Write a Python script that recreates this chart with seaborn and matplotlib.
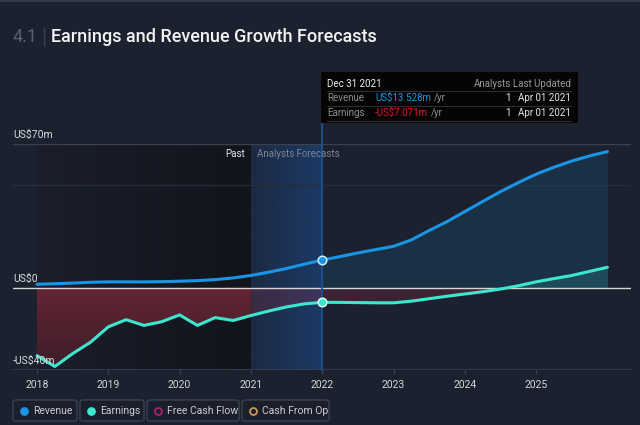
import numpy as np
import pandas as pd
import matplotlib
matplotlib.use("Agg")
import matplotlib.pyplot as plt
from matplotlib.patches import Rectangle, FancyBboxPatch
from matplotlib.lines import Line2D
from matplotlib.colors import LinearSegmentedColormap
import seaborn as sns

# data (US$ m), quarterly
periods = [2018.0, 2018.25, 2018.5, 2018.75, 2019.0, 2019.25, 2019.5, 2019.75,
           2020.0, 2020.25, 2020.5, 2020.75, 2021.0, 2021.25, 2021.5, 2021.75,
           2022.0, 2022.25, 2022.5, 2022.75, 2023.0, 2023.25, 2023.5, 2023.75,
           2024.0, 2024.25, 2024.5, 2024.75, 2025.0, 2025.25, 2025.5, 2025.75, 2026.0]
revenue = [1.7, 2.0, 2.3, 2.7, 2.9, 2.9, 2.9, 3.0,
           3.2, 3.5, 4.0, 4.8, 6.0, 7.6, 9.4, 11.5,
           13.528, 15.2, 17.0, 18.6, 20.2, 23.3, 27.9, 32.2,
           37.1, 42.0, 46.8, 51.2, 55.3, 58.7, 61.7, 64.2, 66.3]
earnings = [-33.0, -38.3, -32.0, -26.5, -19.0, -15.5, -18.3, -16.5,
            -13.2, -18.3, -14.5, -15.9, -13.5, -11.3, -9.3, -7.8,
            -7.071, -7.1, -7.2, -7.3, -7.3, -6.5, -5.3, -4.1,
            -3.0, -1.9, -0.6, 1.0, 2.9, 4.5, 6.0, 8.0, 10.0]
year_ticks = [2018, 2019, 2020, 2021, 2022, 2023, 2024, 2025]
y_labels = {70: "US$70m", 0: "US$0", -40: "-US$40m"}
legend_items = ["Revenue", "Earnings", "Free Cash Flow", "Cash From Op"]

BG = "#1b212e"
REV = "#1a95e6"
EARN = "#3de6cf"
W, H = 640, 425

df = pd.DataFrame({"period": periods, "Revenue": revenue, "Earnings": earnings})
long = df.melt(id_vars="period", var_name="series", value_name="value")

sns.set_style("dark")
plt.rcParams["font.family"] = ["Roboto", "DejaVu Sans"]

fig = plt.figure(figsize=(6.4, 4.25), dpi=100, facecolor=BG)


def fx(x):
    return x / W


def fy(y):
    return 1 - y / H


ax = fig.add_axes([fx(13), fy(370), fx(631) - fx(13), fy(144) - fy(370)])
ax.set_facecolor(BG)
x0 = 2018 - 24 / 71.3
x1 = 2018 + (631 - 37) / 71.3
for s in ax.spines.values():
    s.set_visible(False)

# past region: darkening gradient
past_cmap = LinearSegmentedColormap.from_list("past", ["#1a1f2b", "#11141b"])
ax.imshow(np.linspace(0, 1, 256).reshape(1, -1), cmap=past_cmap, aspect="auto",
          extent=[2018, 2021, -40, 70], zorder=0.5)
# forecast band up to the highlighted date
band_cmap = LinearSegmentedColormap.from_list("band", ["#1c2a42", "#1c3a66"])
ax.imshow(np.linspace(0, 1, 256).reshape(1, -1), cmap=band_cmap, aspect="auto",
          extent=[2021, 2022, -40, 70], zorder=0.6)

# grid lines
ax.axhline(70, color="#3a404d", lw=1, zorder=1)
ax.axhline(50, color="#262c39", lw=1, zorder=1)
ax.axhline(-40, color="#3a404d", lw=1.2, zorder=1)

per = np.array(periods)
earn = np.array(earnings)
rev = np.array(revenue)

# red fill in the past with a vertical gradient
mask = per <= 2021
poly = ax.fill_between(per[mask], earn[mask], 0, color="none", lw=0)
red_cmap = LinearSegmentedColormap.from_list("red", ["#3c1d28", "#652533"])
im = ax.imshow(np.linspace(0, 1, 256).reshape(-1, 1), cmap=red_cmap, aspect="auto",
               extent=[2018, 2021, -40, 0], origin="lower", zorder=1.2)
im.set_clip_path(poly.get_paths()[0], transform=ax.transData)

mask2 = per >= 2021
ax.fill_between(per[mask2], earn[mask2], 0, where=earn[mask2] < 0, interpolate=True,
                color="#9a2c44", alpha=0.25, lw=0, zorder=1.2)
ax.fill_between(per, earn, 0, where=earn > 0, interpolate=True,
                color=EARN, alpha=0.16, lw=0, zorder=1.2)
mask3 = per >= 2022
ax.fill_between(per[mask3], rev[mask3], 0, color=REV, alpha=0.13, lw=0, zorder=1.2)

# zero line
ax.axhline(0, color="#d6d6d6", lw=1, zorder=2)

sns.lineplot(data=long, x="period", y="value", hue="series",
             palette={"Revenue": REV, "Earnings": EARN}, lw=2.2,
             legend=False, ax=ax, zorder=3)

ax.set_xlim(x0, x1)
ax.set_ylim(-40, 70)

# highlighted date
ax.plot([2022, 2022], [-40, 80.3], color="#1b4f92", lw=1.3, clip_on=False, zorder=2.5)
ax.scatter([2022], [13.528], s=38, color=REV, edgecolor="#cfe8ff", lw=1.1, zorder=4)
ax.scatter([2022], [-7.071], s=38, color=EARN, edgecolor="#e0fffa", lw=1.1, zorder=4)

ax.text(2021 - 0.08, 65, "Past", color="#e6e6e6", fontsize=7, ha="right", va="center", zorder=5)
ax.text(2021 + 0.08, 65, "Analysts Forecasts", color="#7c8394", fontsize=7,
        ha="left", va="center", zorder=5)

ax.set_xticks(year_ticks)
ax.set_xticklabels([str(y) for y in year_ticks])
ax.tick_params(axis="x", colors="#3a404d", labelcolor="#d4d6da", labelsize=7.5,
               length=3, width=1, pad=4, bottom=True)
ax.set_yticks([])
ax.set_xlabel("")
ax.set_ylabel("")
ax.grid(False)

for val, lab in y_labels.items():
    ax.text(x0, val + 1.8, lab, color="#d8dade", fontsize=7.5, ha="left", va="bottom", zorder=5)

# title
fig.add_artist(Line2D([0, 1], [fy(0.5), fy(0.5)], color="#3b404b", lw=1.2))
fig.text(fx(13), fy(37), "4.1", color="#5a606d", fontsize=13, va="center", ha="left")
fig.add_artist(Line2D([fx(44), fx(44)], [fy(27), fy(46)], color="#3a404d", lw=1))
fig.text(fx(51), fy(37), "Earnings and Revenue Growth Forecasts", color="#f2f2f2",
         fontsize=13, fontweight="medium", va="center", ha="left")

# tooltip
fig.add_artist(Rectangle((fx(321), fy(123)), fx(578) - fx(321), fy(72) - fy(123),
                         facecolor="#050505", edgecolor="none"))
for yy in [91, 106, 121]:
    fig.add_artist(Line2D([fx(327), fx(571)], [fy(yy), fy(yy)], color="#2e2e2e", lw=0.8))
fig.text(fx(327), fy(84), "Dec 31 2021", color="#f0f0f0", fontsize=7, va="center")
fig.text(fx(511), fy(84), "Analysts", color="#9a9a9a", fontsize=7, va="center", ha="right")
fig.text(fx(571), fy(84), "Last Updated", color="#9a9a9a", fontsize=7, va="center", ha="right")
rows = [("Revenue", "US$13.528m", REV, 98), ("Earnings", "-US$7.071m", "#e0142c", 113)]
renderer = fig.canvas.get_renderer()
for name, value, col, yy in rows:
    fig.text(fx(327), fy(yy), name, color="#8e8e8e", fontsize=7, va="center")
    t = fig.text(fx(375), fy(yy), value, color=col, fontsize=7, va="center")
    bb = t.get_window_extent(renderer)
    fig.text(fx(bb.x1 + 3), fy(yy), "/yr", color="#8e8e8e", fontsize=7, va="center")
    fig.text(fx(511), fy(yy), "1", color="#e6e6e6", fontsize=7, va="center", ha="right")
    fig.text(fx(571), fy(yy), "Apr 01 2021", color="#e6e6e6", fontsize=7, va="center", ha="right")

# legend buttons
boxes = [(13, 77), (80, 144), (147, 239), (242, 329)]
marker_style = [(REV, True), (EARN, True), ("#a8246e", False), ("#c89a5a", False)]
for (bx0, bx1), label, (mc, filled) in zip(boxes, legend_items, marker_style):
    fig.add_artist(FancyBboxPatch((fx(bx0), fy(421)), fx(bx1) - fx(bx0), fy(400) - fy(421),
                                  boxstyle="round,pad=0,rounding_size=0.005",
                                  facecolor="#1a1f2b", edgecolor="#3b414e", lw=1))
    fig.add_artist(Line2D([fx(bx0 + 11)], [fy(410.5)], marker="o", markersize=5,
                          markerfacecolor=mc if filled else "none",
                          markeredgecolor=mc, markeredgewidth=1.3, lw=0))
    fig.text(fx(bx0 + 20), fy(410.5), label, color="#c9cdd4", fontsize=7.5,
             va="center", ha="left")

fig.savefig("out.png", dpi=100, facecolor=BG)
